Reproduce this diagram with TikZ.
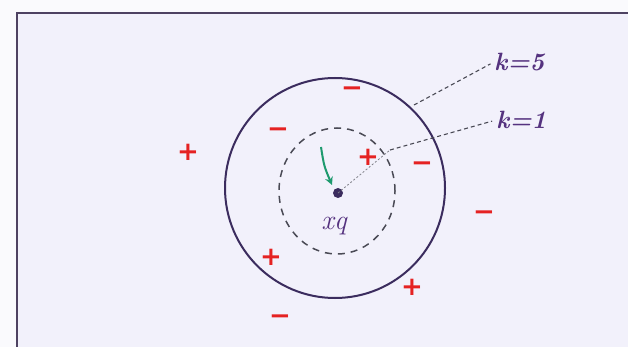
\documentclass[tikz,border=0pt]{standalone}
\usepackage{fontspec}
\newfontfamily\signfont{DejaVu Sans}
\usetikzlibrary{arrows.meta,shapes.geometric}
\definecolor{paper}{HTML}{FAFAFD}
\definecolor{inside}{HTML}{F2F1FB}
\definecolor{framec}{HTML}{4E4262}
\definecolor{circc}{HTML}{3B2C5E}
\definecolor{inkp}{HTML}{55327F}
\definecolor{redc}{HTML}{E52222}
\definecolor{greenc}{HTML}{1E9A6E}
\definecolor{dashc}{HTML}{4A4A55}
\tikzset{
  sign/.style={text=redc, inner sep=0pt, font=\signfont\bfseries\fontsize{26}{26}\selectfont},
  klabel/.style={text=inkp, inner sep=0pt, font=\itshape\bfseries\fontsize{25}{25}\selectfont},
  leader/.style={dashc, line width=1.1pt, dash pattern=on 4pt off 3pt, shorten >=4pt},
}
\begin{document}
\begin{tikzpicture}[x=1pt,y=-1pt]
\useasboundingbox (0,0) rectangle (628,347);
\fill[paper] (0,0) rectangle (628,347);
\begin{scope}
\clip (0,0) rectangle (628,347);
\fill[inside] (17,13) rectangle (640,360);
\draw[framec, line width=2.2pt] (17,360) -- (17,13) -- (640,13);
\end{scope}
% circles
\node[draw=circc, line width=2pt, ellipse, minimum width=220pt, minimum height=220pt, inner sep=0pt] (outer) at (335,188) {};
\node[draw=dashc, line width=1.5pt, dash pattern=on 7pt off 6pt, ellipse, minimum width=116pt, minimum height=126pt, inner sep=0pt] (inner) at (337,191) {};
\fill[circc] (338,193) circle (5pt);
\coordinate (q) at (338,193);
% label
\node[text=inkp, inner sep=0pt, font=\itshape\fontsize{28}{28}\selectfont] (xq) at (334,226) {xq};
% green arrow
\coordinate (gs) at (321,147);
\draw[greenc, line width=2pt, -{Stealth[length=8pt,width=8pt]}] (gs) .. controls (324,166) .. (332,185);
% signs
\node[sign] (s1) at (352,92) {−};
\node[sign] (s2) at (278,133) {−};
\node[sign] (s3) at (368,157) {+};
\node[sign] (s4) at (422,167) {−};
\node[sign] (s5) at (188,152) {+};
\node[sign] (s6) at (484,216) {−};
\node[sign] (s7) at (271,257) {+};
\node[sign] (s8) at (412,287) {+};
\node[sign] (s9) at (280,320) {−};
% dotted line from charge
\coordinate (d1) at (390,150);
\draw[dashc!70, line width=0.8pt, dash pattern=on 2pt off 2pt] (q) -- (d1);
% leaders and labels
\node[klabel, anchor=west] (k5) at (494,62) {k=5};
\node[klabel, anchor=west] (k1) at (496,120) {k=1};
\coordinate (l5) at (414,105);
\coordinate (l1) at (390,150);
\draw[leader] (l5) -- (k5.west);
\draw[leader] (l1) -- (k1.west);
\end{tikzpicture}
\end{document}
